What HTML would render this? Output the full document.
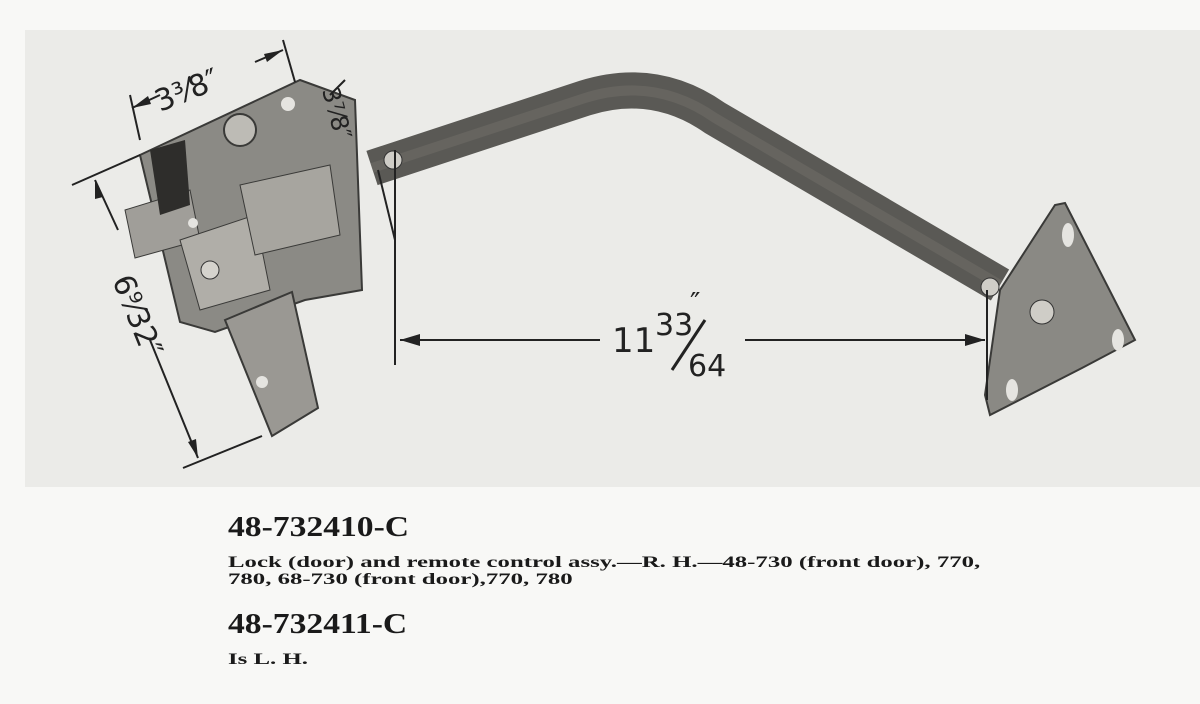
<!DOCTYPE html>
<html><head><meta charset="utf-8"><style>
html,body{margin:0;padding:0;background:#f8f8f6;}
body{width:1200px;height:704px;position:relative;overflow:hidden;font-family:"Liberation Serif",serif;color:#1a1a1a;}
.t{position:absolute;left:228px;font-weight:bold;white-space:nowrap;transform-origin:0 0;}
.h{font-size:28px;transform:scaleX(1.2);}
.b{font-size:16px;line-height:17px;transform:scaleX(1.55);}
</style></head><body>
<svg width="1200" height="704" style="position:absolute;left:0;top:0">
<rect x="25" y="30" width="1175" height="457" fill="#ebebe8"/>
<path d="M372 168 L585 98 Q655 76 715 118 L1000 285" fill="none" stroke="#5a5955" stroke-width="36" stroke-linejoin="round"/>
<path d="M372 168 L585 98 Q655 76 715 118 L1000 285" fill="none" stroke="#77766f" stroke-width="10" opacity="0.4"/>
<polygon points="140,155 300,80 355,100 362,290 305,300 215,332 180,322" fill="#8b8a85" stroke="#3a3a38" stroke-width="2"/>
<polygon points="225,320 292,292 318,408 272,436" fill="#9a9893" stroke="#3a3a38" stroke-width="2"/>
<polygon points="125,210 190,190 200,240 135,258" fill="#a09e99" stroke="#3a3a38"/>
<polygon points="150,150 185,140 190,205 160,215" fill="#2e2d2b"/>
<polygon points="180,240 255,215 270,290 200,310" fill="#b0aea8" stroke="#3a3a38"/>
<polygon points="240,185 330,165 340,235 255,255" fill="#a7a59f" stroke="#3a3a38"/>
<circle cx="240" cy="130" r="16" fill="#bdbbb5" stroke="#3a3a38" stroke-width="2"/>
<circle cx="288" cy="104" r="7" fill="#e5e4e0"/>
<circle cx="210" cy="270" r="9" fill="#d5d3cd" stroke="#333"/>
<circle cx="262" cy="382" r="6" fill="#e5e4e0"/>
<circle cx="193" cy="223" r="5" fill="#e5e4e0"/>
<polygon points="1065,203 1135,340 1082,368 990,415 985,395 1000,290 1055,205" fill="#8a8984" stroke="#3a3a38" stroke-width="2"/>
<circle cx="1042" cy="312" r="12" fill="#cfcdc7" stroke="#333"/>
<ellipse cx="1068" cy="235" rx="6" ry="12" fill="#e5e4e0"/>
<ellipse cx="1118" cy="340" rx="6" ry="11" fill="#e5e4e0"/>
<ellipse cx="1012" cy="390" rx="6" ry="11" fill="#e5e4e0"/>
<circle cx="990" cy="287" r="9" fill="#cfcdc7" stroke="#333"/>
<circle cx="393" cy="160" r="9" fill="#cfcdc7" stroke="#333"/>
<g stroke="#222" stroke-width="2" fill="none">
<line x1="395" y1="150" x2="395" y2="365"/>
<line x1="987" y1="290" x2="987" y2="400"/>
<line x1="400" y1="340" x2="600" y2="340"/>
<line x1="745" y1="340" x2="985" y2="340"/>
<line x1="132" y1="108" x2="160" y2="95"/>
<line x1="255" y1="62" x2="283" y2="50"/>
<line x1="130" y1="95" x2="140" y2="140"/>
<line x1="283" y1="40" x2="295" y2="82"/>
<line x1="95" y1="180" x2="118" y2="230"/>
<line x1="150" y1="340" x2="198" y2="458"/>
<line x1="72" y1="185" x2="140" y2="155"/>
<line x1="183" y1="468" x2="262" y2="436"/>
<line x1="330" y1="95" x2="345" y2="80"/>
<line x1="378" y1="170" x2="395" y2="240"/>
</g>
<g fill="#222">
<polygon points="400,340 420,334 420,346"/>
<polygon points="985,340 965,334 965,346"/>
<polygon points="132,108 148,96 151,104"/>
<polygon points="283,50 267,62 264,54"/>
<polygon points="95,180 103,197 95,199"/>
<polygon points="198,458 188,442 196,439"/>
</g>
<g font-family="'DejaVu Sans',sans-serif" fill="#222">
<text x="612" y="352" font-size="34">11</text>
<text x="655" y="335" font-size="30">33</text>
<text x="690" y="312" font-size="28">″</text>
<line x1="672" y1="370" x2="705" y2="320" stroke="#222" stroke-width="3"/>
<text x="688" y="376" font-size="30">64</text>
<text x="160" y="112" font-size="30" transform="rotate(-22 160 112)">3³⁄8″</text>
<text x="322" y="90" font-size="24" transform="rotate(75 322 90)">3⁷⁄8″</text>
<text x="112" y="280" font-size="30" transform="rotate(68 112 280)">6⁹⁄32″</text>
</g>
</svg>
<div class="t h" style="top:512px;">48-732410-C</div>
<div class="t b" style="top:554px;">Lock (door) and remote control assy.—R. H.—48-730 (front door), 770,<br>780, 68-730 (front door),770, 780</div>
<div class="t h" style="top:609px;">48-732411-C</div>
<div class="t b" style="top:651px;">Is L. H.</div>
</body></html>
